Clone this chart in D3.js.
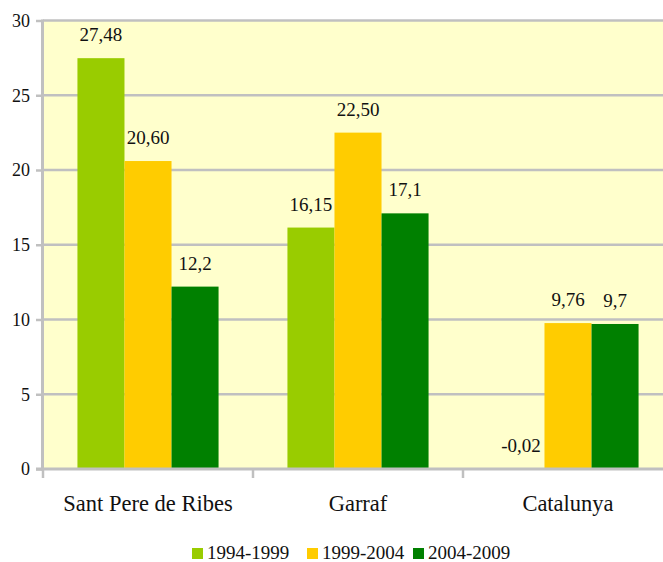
<!DOCTYPE html>
<html>
<head>
<meta charset="utf-8">
<script src="https://cdn.jsdelivr.net/npm/d3@7"></script>
<style>
  html, body { margin: 0; padding: 0; background: #ffffff; }
  svg { display: block; }
</style>
</head>
<body>
<svg id="chart" width="663" height="562" font-family="'Liberation Serif', 'DejaVu Serif', 'Times New Roman', Times, serif"></svg>
<script>
const categories = ["Sant Pere de Ribes", "Garraf", "Catalunya"];
const seriesNames = ["1994-1999", "1999-2004", "2004-2009"];
const series1994 = [27.48, 16.15, -0.02];
const series1999 = [20.60, 22.50, 9.76];
const series2004 = [12.2, 17.1, 9.7];
const labels1994 = ["27,48", "16,15", "-0,02"];
const labels1999 = ["20,60", "22,50", "9,76"];
const labels2004 = ["12,2", "17,1", "9,7"];
const yTicks = [0, 5, 10, 15, 20, 25, 30];
const colors = ["#99CC00", "#FFCC00", "#008000"];

const seriesValues = [series1994, series1999, series2004];
const seriesLabels = [labels1994, labels1999, labels2004];

const FONT = "'Liberation Serif', 'DejaVu Serif', 'Times New Roman', Times, serif";
const svg = d3.select("#chart");
const pLeft = 43, pRight = 673, pTop = 20.5, pBottom = 469;

const x = d3.scaleBand().domain(categories).range([pLeft, pRight]).paddingInner(0).paddingOuter(0);
const groupW = x.bandwidth() * 0.672;
const xs = d3.scaleBand().domain(seriesNames).range([0, groupW]).padding(0);
const y = d3.scaleLinear().domain([0, 30]).range([pBottom, pTop]);

svg.append("rect").attr("x", pLeft).attr("y", pTop).attr("width", pRight - pLeft).attr("height", pBottom - pTop)
  .attr("fill", "#FFFFCC");

svg.append("g").selectAll("line").data(yTicks.filter(d => d > 0)).join("line")
  .attr("x1", pLeft).attr("x2", pRight)
  .attr("y1", d => y(d)).attr("y2", d => y(d))
  .attr("stroke", "#C0C0C0").attr("stroke-width", 2.5);

const rows = [];
categories.forEach((c, i) => {
  seriesNames.forEach((s, j) => {
    rows.push({ cat: c, ser: s, v: seriesValues[j][i], lab: seriesLabels[j][i], color: colors[j] });
  });
});
const offset = (x.bandwidth() - groupW) / 2;
svg.append("g").selectAll("rect").data(rows).join("rect")
  .attr("x", d => x(d.cat) + offset + xs(d.ser))
  .attr("width", xs.bandwidth())
  .attr("y", d => y(Math.max(0, d.v)))
  .attr("height", d => Math.abs(y(d.v) - y(0)))
  .attr("fill", d => d.color);

svg.append("g").selectAll("text").data(rows).join("text")
  .attr("x", d => x(d.cat) + offset + xs(d.ser) + xs.bandwidth() / 2)
  .attr("y", d => y(Math.max(0, d.v)) - 17)
  .attr("text-anchor", "middle")
  .attr("font-family", FONT)
  .attr("font-size", 19)
  .attr("fill", "#111")
  .text(d => d.lab);

const yAxis = d3.axisLeft(y).tickValues(yTicks).tickSize(7).tickPadding(6).tickFormat(d3.format("d"));
const gy = svg.append("g").attr("transform", `translate(${pLeft},0)`).call(yAxis);
gy.attr("font-family", FONT).attr("font-size", 18);
gy.select(".domain").remove();
gy.selectAll(".tick line").attr("stroke", "#C0C0C0").attr("stroke-width", 2.5);
gy.selectAll(".tick text").attr("font-family", FONT).attr("font-size", 18).attr("fill", "#111");
svg.append("line").attr("x1", pLeft - 0.5).attr("x2", pLeft - 0.5).attr("y1", pTop - 1).attr("y2", pBottom + 1.5)
  .attr("stroke", "#C0C0C0").attr("stroke-width", 3);

svg.append("line").attr("x1", pLeft - 7).attr("x2", pRight).attr("y1", pBottom).attr("y2", pBottom)
  .attr("stroke", "#C0C0C0").attr("stroke-width", 3);
const boundaries = categories.map(c => x(c)).concat([x(categories[categories.length - 1]) + x.bandwidth()]);
svg.append("g").selectAll("line").data(boundaries).join("line")
  .attr("x1", d => d).attr("x2", d => d)
  .attr("y1", pBottom).attr("y2", pBottom + 9)
  .attr("stroke", "#C0C0C0").attr("stroke-width", 2.5);
svg.append("g").selectAll("text").data(categories).join("text")
  .attr("x", d => x(d) + x.bandwidth() / 2)
  .attr("y", 511)
  .attr("text-anchor", "middle")
  .attr("font-family", FONT)
  .attr("font-size", 22.5)
  .attr("fill", "#111")
  .text(d => d);

const legendX = [192, 307, 413];
const lg = svg.append("g").selectAll("g").data(seriesNames).join("g")
  .attr("transform", (d, i) => `translate(${legendX[i]},548)`);
lg.append("rect").attr("width", 11).attr("height", 11).attr("fill", (d, i) => colors[i]);
lg.append("text").attr("x", 15).attr("y", 11)
  .attr("font-family", FONT).attr("font-size", 19).attr("fill", "#111").text(d => d);
</script>
</body>
</html>
